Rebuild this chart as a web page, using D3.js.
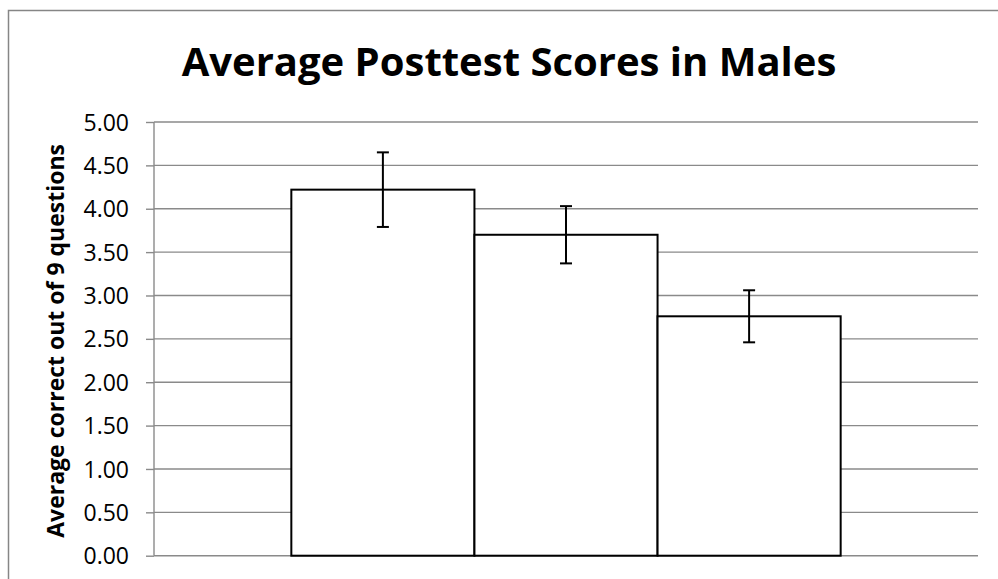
<!DOCTYPE html>
<html lang="en">
  <head>
    <meta charset="utf-8">
    <title>Average Posttest Scores in Males</title>
    <style>
      body { margin: 0; background: #fff; }
      svg text { font-family: "Open Sans", "Liberation Sans", sans-serif; fill: #000; }
    </style>
  </head>
  <body>
    <svg class="chart"></svg>

    <script src="https://cdn.jsdelivr.net/npm/d3@7/dist/d3.min.js"></script>
    <script type="text/javascript">
    // data
    var groups = ["Group 1", "Group 2", "Group 3"];
    var means = [4.22, 3.70, 2.76];
    var errors = [0.43, 0.33, 0.30];
    var yTicks = [0, 0.5, 1, 1.5, 2, 2.5, 3, 3.5, 4, 4.5, 5];

    var W = 998, H = 579;
    var margin = {top: 122, right: 20, bottom: 23.3, left: 154},
        width = W - margin.left - margin.right,
        height = H - margin.top - margin.bottom;

    var svg = d3.select(".chart")
        .attr("width", W)
        .attr("height", H);

    // chart area border (cut off at right and bottom)
    svg.append("rect")
        .attr("x", 8.5).attr("y", 10.5)
        .attr("width", W + 20).attr("height", H + 20)
        .attr("fill", "none")
        .attr("stroke", "#868686")
        .attr("stroke-width", 1.5);

    var x = d3.scaleBand().domain(groups).range([0, width])
        .paddingInner(0).paddingOuter(0.75);
    var y = d3.scaleLinear().domain([0, 5]).range([height, 0]);

    var chart = svg.append("g")
        .attr("transform", "translate(" + margin.left + "," + margin.top + ")");

    // gridlines
    chart.append("g")
        .selectAll("line")
        .data(yTicks)
        .enter().append("line")
          .attr("x1", 0).attr("x2", width)
          .attr("y1", function(d) { return y(d); })
          .attr("y2", function(d) { return y(d); })
          .attr("stroke", "#8a8a8a")
          .attr("stroke-width", 1.4);

    var yAxis = d3.axisLeft(y).tickValues(yTicks)
        .tickFormat(d3.format(".2f")).tickSize(8).tickPadding(17);

    var gy = chart.append("g").attr("class", "y axis").call(yAxis);
    gy.selectAll("line, path").attr("stroke", "#8a8a8a").attr("stroke-width", 1.4);
    gy.select(".domain").attr("d", "M0," + height + "V0");
    gy.selectAll("text")
        .style("font-size", "23px")
        .attr("dy", "0.35em");

    // bars
    chart.selectAll(".bar")
        .data(means)
        .enter().append("rect")
          .attr("class", "bar")
          .attr("x", function(d, i) { return x(groups[i]); })
          .attr("y", function(d) { return y(d); })
          .attr("width", x.bandwidth())
          .attr("height", function(d) { return height - y(d); })
          .attr("fill", "#fff")
          .attr("stroke", "#000")
          .attr("stroke-width", 2);

    // error bars
    var eb = chart.selectAll(".err")
        .data(means)
        .enter().append("g")
          .attr("class", "err")
          .attr("transform", function(d, i) {
            return "translate(" + (x(groups[i]) + x.bandwidth() / 2) + ",0)";
          })
          .attr("stroke", "#000")
          .attr("stroke-width", 2);

    eb.append("line")
        .attr("y1", function(d, i) { return y(d + errors[i]); })
        .attr("y2", function(d, i) { return y(d - errors[i]); });
    eb.append("line")
        .attr("x1", -6).attr("x2", 6)
        .attr("y1", function(d, i) { return y(d + errors[i]); })
        .attr("y2", function(d, i) { return y(d + errors[i]); });
    eb.append("line")
        .attr("x1", -6).attr("x2", 6)
        .attr("y1", function(d, i) { return y(d - errors[i]); })
        .attr("y2", function(d, i) { return y(d - errors[i]); });

    // title
    svg.append("text")
        .attr("x", 509).attr("y", 76)
        .attr("text-anchor", "middle")
        .style("font-size", "40px")
        .style("font-weight", "bold")
        .text("Average Posttest Scores in Males");

    // y axis label
    svg.append("text")
        .attr("transform", "translate(64," + (margin.top + height / 2 + 2) + ") rotate(-90)")
        .attr("text-anchor", "middle")
        .style("font-size", "23px")
        .style("font-weight", "bold")
        .text("Average correct out of 9 questions");
    </script>
  </body>
</html>
